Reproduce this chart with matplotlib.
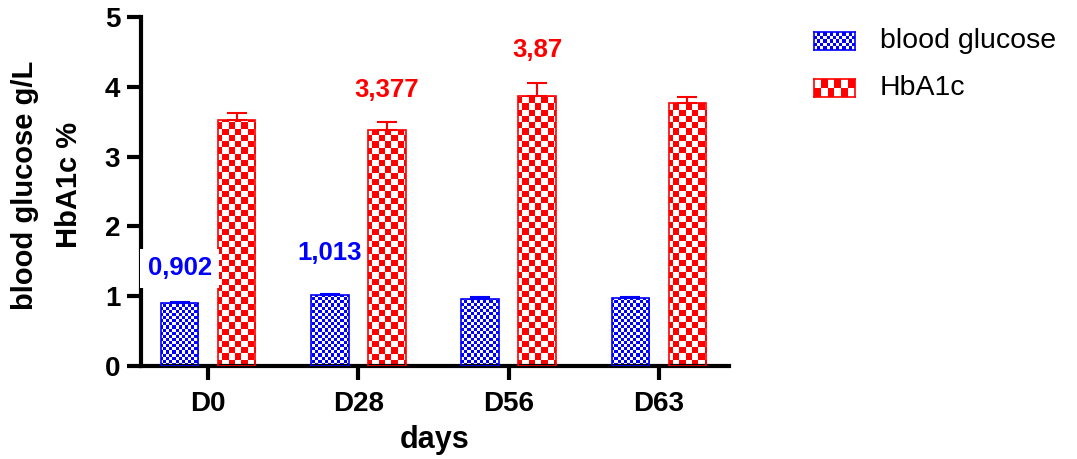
import numpy as np
import matplotlib
matplotlib.use("Agg")
import matplotlib.pyplot as plt

plt.rcParams['font.family'] = ['Liberation Sans', 'DejaVu Sans']

days = ['D0', 'D28', 'D56', 'D63']
glucose = [0.902, 1.013, 0.96, 0.97]
glucose_err = [0.015, 0.02, 0.03, 0.015]
hba1c = [3.53, 3.377, 3.87, 3.77]
hba1c_err = [0.09, 0.12, 0.18, 0.08]

BLUE = '#0000ff'
RED = '#ff0000'


def checker(rows, cols, color):
    rgb = np.array(matplotlib.colors.to_rgb(color))
    mask = (np.add.outer(np.arange(rows), np.arange(cols)) % 2).astype(bool)
    img = np.ones((rows, cols, 3))
    img[mask] = rgb
    return img


W, H = 1077, 459
fig = plt.figure(figsize=(W / 100, H / 100), dpi=100)
ax_l, ax_b, ax_w, ax_h = 141, 366, 588, 349   # pixels
ax = fig.add_axes([ax_l / W, 1 - ax_b / H, ax_w / W, ax_h / H])

x = np.arange(len(days))
bw = 0.25
off = 0.19

series = [
    (x - off, glucose, glucose_err, BLUE, 3.1, 'blood glucose'),
    (x + off, hba1c, hba1c_err, RED, 6.2, 'HbA1c'),
]

for xs, vals, err, col, cell, name in series:
    bars = ax.bar(xs, vals, width=bw, facecolor='none', edgecolor=col,
                  linewidth=1.2, zorder=3)
    tex = checker(int(ax_h / cell), int(ax_w / cell), col)
    for b in bars:
        im = ax.imshow(tex, extent=(0, 1, 0, 1), transform=ax.transAxes,
                       interpolation='nearest', aspect='auto', zorder=2)
        im.set_clip_path(b)
    ax.errorbar(xs, vals, yerr=[np.zeros(len(vals)), err], fmt='none',
                ecolor=col, elinewidth=1.5, capsize=7, capthick=1.5, zorder=4)

# value labels above selected bars (series, bar, lift, white box)
labels = [(0, 0, 0.48, True), (0, 1, 0.59, False),
          (1, 1, 0.45, False), (1, 2, 0.48, False)]
for s, i, dy, boxed in labels:
    xs, vals, err, col, _, _ = series[s]
    box = dict(boxstyle='square,pad=0.3', fc='white', ec='none') if boxed else None
    ax.text(xs[i], vals[i] + err[i] + dy, str(vals[i]).replace('.', ','),
            color=col, fontsize=18.5, fontweight='bold', ha='center', va='center',
            zorder=6, clip_on=False, bbox=box)

ax.set_xlim(-0.447, 3.467)
ax.set_ylim(0, 5)
ax.set_xticks(x)
ax.set_xticklabels(days)
ax.set_yticks(range(6))
for side in ['top', 'right']:
    ax.spines[side].set_visible(False)
for side in ['left', 'bottom']:
    ax.spines[side].set_linewidth(3)
ax.tick_params(axis='both', length=10, width=3, labelsize=20)
ax.tick_params(axis='x', pad=8)
ax.tick_params(axis='y', pad=5)
for lab in ax.get_xticklabels() + ax.get_yticklabels():
    lab.set_fontweight('bold')

ax.set_xlabel('days', fontsize=22, fontweight='bold', labelpad=6)
fig.text(47 / W, 1 - 185 / H, 'blood glucose g/L\nHbA1c %', rotation=90,
         ha='center', va='center', multialignment='center', linespacing=1.75,
         fontsize=21, fontweight='bold')

# legend swatches
for k, (xs, vals, err, col, cell, name) in enumerate(series):
    top = 32 + k * 47
    sw = fig.add_axes([814 / W, 1 - (top + 18) / H, 41 / W, 18 / H])
    sw.imshow(checker(int(18 / cell), int(41 / cell), col),
              interpolation='nearest', aspect='auto')
    sw.set_xticks([])
    sw.set_yticks([])
    for sp in sw.spines.values():
        sp.set_edgecolor(col)
        sp.set_linewidth(1.2)
    fig.text(880 / W, 1 - (top + 9) / H, name, fontsize=20.5, va='center',
             ha='left')

fig.savefig('out.png', dpi=100)
